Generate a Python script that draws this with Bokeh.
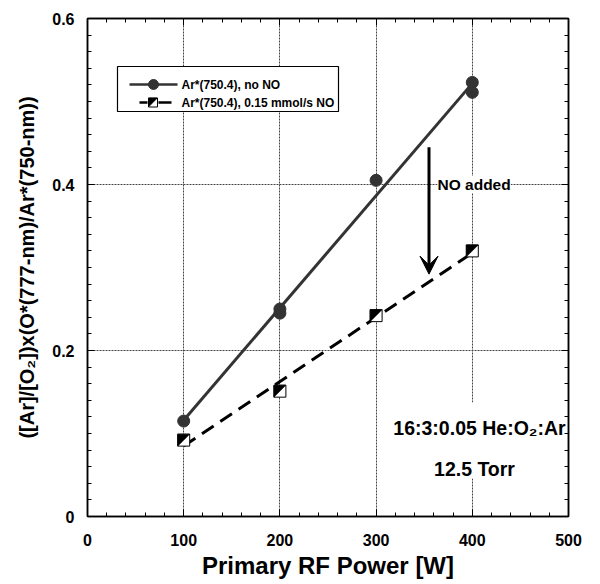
import numpy as np
from bokeh.plotting import figure
from bokeh.models import LinearAxis, FixedTicker, Range1d, Label, Arrow, VeeHead, Title
from bokeh.embed import file_html
from bokeh.resources import INLINE

# ---- data ----
power_no = [100, 200, 200, 300, 400, 400]
ratio_no = [0.115, 0.245, 0.250, 0.405, 0.523, 0.511]
power_with = [100, 200, 300, 400]
ratio_with = [0.092, 0.151, 0.242, 0.320]
x_ticks = [0, 100, 200, 300, 400, 500]
y_ticks = [0, 0.2, 0.4, 0.6]
y_tick_labels = {0: "0", 0.2: "0.2", 0.4: "0.4", 0.6: "0.6"}
label_no = "Ar*(750.4), no NO"
label_with = "Ar*(750.4), 0.15 mmol/s NO"
arrow_text = "NO added"
cond_line1 = "16:3:0.05 He:O\u2082:Ar"
cond_line2 = "12.5 Torr"
x_title = "Primary RF Power [W]"
y_title = "([Ar]/[O\u2082])x(O*(777-nm)/Ar*(750-nm))"

FONT = "Liberation Sans"
W, H = 600, 584
L, R, T, B = 87, 32, 18, 68
FW, FH = W - L - R, H - T - B
XMAX, YMAX = 500, 0.6


def X(px):
    return (px - L) * XMAX / FW


def Y(py):
    return (H - B - py) * YMAX / FH


p = figure(width=W, height=H, x_range=Range1d(0, XMAX), y_range=Range1d(0, YMAX),
           output_backend="svg", toolbar_location=None,
           min_border_left=L, min_border_right=R, min_border_top=T, min_border_bottom=B)
p.background_fill_color = "white"
p.border_fill_color = "white"
p.outline_line_color = "black"
p.outline_line_width = 1.5

xt = FixedTicker(ticks=x_ticks, minor_ticks=list(range(0, 501, 20)))
yt = FixedTicker(ticks=y_ticks, minor_ticks=[round(v, 2) for v in np.arange(0, 0.601, 0.02)])


def style_axis(ax, labels=True):
    ax.axis_line_color = "black"
    ax.axis_line_width = 1.5
    ax.major_tick_in = 7
    ax.major_tick_out = 0
    ax.minor_tick_in = 4
    ax.minor_tick_out = 0
    ax.major_tick_line_color = "black"
    ax.minor_tick_line_color = "black"
    if labels:
        ax.major_label_text_font = FONT
        ax.major_label_text_font_style = "bold"
        ax.major_label_text_font_size = "16px"
        ax.major_label_text_color = "black"
    else:
        ax.major_label_text_font_size = "1px"
        ax.major_label_text_color = None
        ax.major_label_standoff = 0


p.xaxis.ticker = xt
p.yaxis.ticker = yt
style_axis(p.xaxis[0])
style_axis(p.yaxis[0])
p.yaxis.major_label_overrides = y_tick_labels
p.yaxis.major_label_standoff = 13
p.xaxis.major_label_standoff = 17
p.xaxis.axis_label = x_title
p.xaxis.axis_label_text_font = FONT
p.xaxis.axis_label_text_font_style = "bold"
p.xaxis.axis_label_text_font_size = "24px"
p.xaxis.axis_label_text_color = "black"
p.xaxis.axis_label_standoff = 3

ax_r = LinearAxis(ticker=yt)
style_axis(ax_r, labels=False)
p.add_layout(ax_r, "right")
ax_t = LinearAxis(ticker=xt)
style_axis(ax_t, labels=False)
p.add_layout(ax_t, "above")

p.add_layout(Title(text=y_title, align="center", offset=47, text_font=FONT,
                   text_font_style="bold", text_font_size="20px", text_color="black",
                   standoff=23), "left")

p.xgrid.ticker = FixedTicker(ticks=x_ticks[1:-1])
p.ygrid.ticker = FixedTicker(ticks=y_ticks[1:-1])
for g in (p.xgrid[0], p.ygrid[0]):
    g.grid_line_color = "#444444"
    g.grid_line_dash = "2 1"
    g.grid_line_width = 1

# white box behind the condition text
p.quad(left=[X(385)], right=[X(566)], top=[Y(402)], bottom=[Y(478)],
       fill_color="white", line_color=None)

# ---- fit lines ----
k1, b1 = np.polyfit(power_no, ratio_no, 1)
k2, b2 = np.polyfit(power_with, ratio_with, 1)
xf = np.array([min(power_no), max(power_no)])
p.line(xf, k1 * xf + b1, line_color="#333333", line_width=3)
xf2 = np.array([min(power_with), max(power_with)])
p.line(xf2, k2 * xf2 + b2, line_color="black", line_width=3, line_dash="14 8")

# ---- markers ----
p.scatter(power_no, ratio_no, marker="circle", size=12, fill_color="#333333", line_color="#333333")

SQ = 12  # square marker size in px


def half_squares(xs, ys, size_px):
    dx = size_px / 2 * XMAX / FW
    dy = size_px / 2 * YMAX / FH
    pxs, pys = [], []
    for x, y in zip(xs, ys):
        pxs.append([x - dx, x + dx, x - dx])
        pys.append([y + dy, y + dy, y - dy])
    return pxs, pys


p.scatter(power_with, ratio_with, marker="square", size=SQ, fill_color="white", line_color="black", line_width=1)
hx, hy = half_squares(power_with, ratio_with, SQ)
p.patches(hx, hy, fill_color="black", line_color="black", line_width=0.5)

# ---- legend (drawn manually) ----
p.quad(left=[X(117)], right=[X(338)], top=[Y(66)], bottom=[Y(111)],
       fill_color="white", line_color="black", line_width=1.2)
p.line([X(129), X(177)], [Y(84), Y(84)], line_color="#333333", line_width=2.5)
p.scatter([X(153)], [Y(84)], marker="circle", size=10, fill_color="#333333", line_color="#333333")
p.multi_line([[X(139), X(147)], [X(158), X(171)]], [[Y(102), Y(102)], [Y(102), Y(102)]],
             line_color="black", line_width=2.5)
p.scatter([X(152.5)], [Y(102)], marker="square", size=9, fill_color="white", line_color="black")
lx, ly = half_squares([X(152.5)], [Y(102)], 9)
p.patches(lx, ly, fill_color="black", line_color="black", line_width=0.5)
for txt, py in ((label_no, 84), (label_with, 102)):
    p.add_layout(Label(x=X(181), y=Y(py), text=txt, text_font=FONT, text_font_style="bold",
                       text_font_size="12px", text_baseline="middle", text_align="left",
                       text_color="black"))

# ---- annotations ----
p.add_layout(Arrow(end=VeeHead(size=18, fill_color="black", line_color="black", line_width=1),
                   x_start=355, y_start=0.445, x_end=355, y_end=0.292,
                   line_color="black", line_width=3))
p.add_layout(Label(x=X(437), y=0.4, text=arrow_text, text_font=FONT, text_font_style="bold",
                   text_font_size="15.5px", text_baseline="middle", text_align="left",
                   text_color="black", background_fill_color="white"))
p.add_layout(Label(x=X(479), y=Y(427), text=cond_line1, text_font=FONT, text_font_style="bold",
                   text_font_size="19.5px", text_baseline="alphabetic", text_align="center",
                   text_color="black"))
p.add_layout(Label(x=X(474), y=Y(468), text=cond_line2, text_font=FONT, text_font_style="bold",
                   text_font_size="19.5px", text_baseline="alphabetic", text_align="center",
                   text_color="black"))

open("out.html", "w").write(file_html(p, INLINE))
